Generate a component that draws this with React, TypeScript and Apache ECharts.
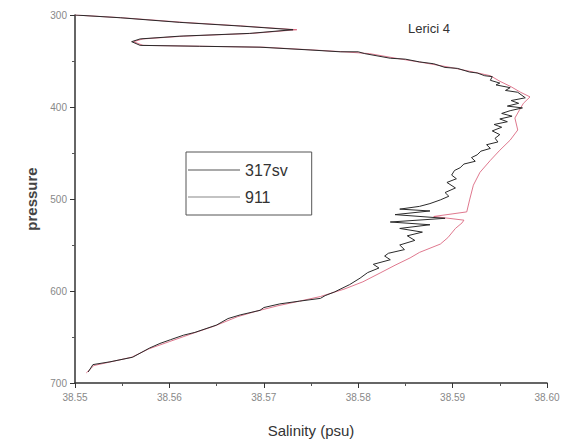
import React, { useEffect, useRef } from "react";
import * as echarts from "echarts";

// Salinity profile, cast "Lerici 4": [salinity (psu), pressure]
const series317sv: [number, number][] = [
  [38.5500, 300], [38.5548, 303], [38.5611, 308], [38.5675, 312], [38.5731, 316],
  [38.5685, 320], [38.5611, 323], [38.5569, 326], [38.5560, 329], [38.5569, 333],
  [38.5632, 334], [38.5696, 335], [38.5749, 338], [38.5781, 340], [38.5800, 340],
  [38.5807, 342], [38.5834, 347], [38.5850, 348], [38.5865, 351], [38.5880, 353],
  [38.5892, 357], [38.5905, 358], [38.5918, 362], [38.5926, 363], [38.5934, 366],
  [38.5942, 367], [38.5940, 371], [38.5950, 374], [38.5946, 376], [38.5961, 379],
  [38.5956, 382], [38.5969, 384], [38.5977, 390], [38.5962, 393], [38.5970, 396],
  [38.5958, 399], [38.5974, 401], [38.5961, 404], [38.5952, 407], [38.5963, 410],
  [38.5950, 413], [38.5958, 416], [38.5944, 419], [38.5952, 422], [38.5942, 426],
  [38.5950, 430], [38.5945, 434], [38.5948, 438], [38.5936, 441], [38.5940, 445],
  [38.5930, 448], [38.5926, 452], [38.5920, 455], [38.5924, 459], [38.5912, 462],
  [38.5908, 466], [38.5902, 469], [38.5899, 474], [38.5904, 478], [38.5894, 482],
  [38.5903, 488], [38.5892, 493], [38.5896, 497], [38.5887, 501], [38.5876, 505],
  [38.5865, 508], [38.5844, 511], [38.5876, 513], [38.5839, 517], [38.5892, 521],
  [38.5834, 525], [38.5876, 528], [38.5844, 532], [38.5868, 536], [38.5852, 540],
  [38.5860, 545], [38.5844, 550], [38.5849, 555], [38.5832, 559], [38.5828, 562],
  [38.5834, 566], [38.5816, 571], [38.5822, 575], [38.5810, 580], [38.5802, 586],
  [38.5791, 593], [38.5775, 601], [38.5765, 605], [38.5760, 608], [38.5738, 611],
  [38.5717, 614], [38.5700, 618], [38.5696, 621], [38.5675, 626], [38.5662, 630],
  [38.5650, 637], [38.5627, 645], [38.5615, 648], [38.5601, 653], [38.5590, 657],
  [38.5579, 662], [38.5561, 672], [38.5537, 677], [38.5519, 680], [38.5514, 688],
];

const series911: [number, number][] = [
  [38.5500, 300], [38.5550, 303], [38.5615, 308], [38.5678, 312], [38.5735, 316],
  [38.5688, 320], [38.5615, 323], [38.5572, 326], [38.5562, 329], [38.5572, 333],
  [38.5635, 334], [38.5700, 335], [38.5752, 338], [38.5785, 340], [38.5812, 342],
  [38.5840, 347], [38.5870, 352], [38.5898, 357], [38.5922, 362], [38.5940, 366],
  [38.5950, 372], [38.5962, 378], [38.5972, 384], [38.5982, 389], [38.5975, 396],
  [38.5971, 403], [38.5966, 412], [38.5969, 425], [38.5961, 436], [38.5950, 447],
  [38.5940, 458], [38.5929, 471], [38.5922, 485], [38.5918, 501], [38.5915, 514],
  [38.5880, 519], [38.5912, 523], [38.5910, 526], [38.5903, 532], [38.5895, 542],
  [38.5887, 549], [38.5865, 558], [38.5855, 564], [38.5839, 572], [38.5824, 580],
  [38.5805, 590], [38.5785, 598], [38.5760, 606], [38.5738, 611], [38.5715, 616],
  [38.5692, 622], [38.5672, 628], [38.5648, 638], [38.5625, 646], [38.5600, 655],
  [38.5578, 663], [38.5560, 672], [38.5538, 677], [38.5520, 681], [38.5512, 689],
];

const seriesNames = ["317sv", "911"];
const salinityMin = 38.55;
const salinityMax = 38.6;
const pressureMin = 300;
const pressureMax = 700;

export default function App() {
  const ref = useRef<HTMLDivElement>(null);

  useEffect(() => {
    if (!ref.current) return;
    const chart = echarts.init(ref.current, null, { renderer: "svg" });
    const font = "Liberation Sans, Arial, sans-serif";
    chart.setOption({
      animation: false,
      backgroundColor: "#ffffff",
      title: {
        text: "Lerici 4",
        left: 403,
        top: 17,
        textStyle: { fontFamily: font, fontSize: 13, fontWeight: "normal", color: "#333" },
      },
      legend: {
        data: seriesNames.map((name) => ({ name, icon: "rect" })),
        orient: "vertical",
        left: 186,
        top: 152,
        borderColor: "#555",
        borderWidth: 1,
        borderRadius: 0,
        padding: [10, 24, 10, 2],
        itemWidth: 52,
        itemHeight: 1,
        itemGap: 11,
        textStyle: { fontFamily: font, fontSize: 16, color: "#333", padding: [0, 0, 0, 0] },
      },
      grid: { left: 75, right: 18, top: 15, bottom: 63, containLabel: false },
      xAxis: {
        type: "value",
        min: salinityMin,
        max: salinityMax,
        interval: 0.01,
        name: "Salinity (psu)",
        nameLocation: "middle",
        nameGap: 40,
        nameTextStyle: { fontFamily: font, fontSize: 15, color: "#333" },
        axisLine: { show: true, lineStyle: { color: "#333", width: 1.5 } },
        axisTick: { show: true, length: 5, lineStyle: { color: "#333" } },
        minorTick: { show: true, splitNumber: 2, length: 3, lineStyle: { color: "#555" } },
        axisLabel: {
          fontFamily: font,
          fontSize: 10,
          color: "#888",
          margin: 9,
          formatter: (v: number) => v.toFixed(2),
        },
        splitLine: { show: false },
      },
      yAxis: {
        type: "value",
        inverse: true,
        min: pressureMin,
        max: pressureMax,
        interval: 100,
        name: "pressure",
        nameLocation: "middle",
        nameGap: 24,
        nameTextStyle: { fontFamily: font, fontSize: 15, fontWeight: "bold", color: "#444" },
        axisLine: { show: true, lineStyle: { color: "#333", width: 1.5 } },
        axisTick: { show: true, length: 5, lineStyle: { color: "#333" } },
        minorTick: { show: true, splitNumber: 2, length: 3, lineStyle: { color: "#555" } },
        axisLabel: { fontFamily: font, fontSize: 10, color: "#888", margin: 8 },
        splitLine: { show: false },
      },
      series: [
        {
          name: seriesNames[0],
          type: "line",
          data: series317sv,
          symbol: "none",
          lineStyle: { color: "#2a2a2a", width: 1 },
          itemStyle: { color: "#555" },
          z: 3,
        },
        {
          name: seriesNames[1],
          type: "line",
          data: series911,
          symbol: "none",
          lineStyle: { color: "#d9607a", width: 1, opacity: 0.85 },
          itemStyle: { color: "#888" },
          z: 2,
        },
      ],
    });
    return () => chart.dispose();
  }, []);

  return (
    <div
      ref={ref}
      style={{ position: "absolute", left: 0, top: 0, width: 565, height: 446 }}
    />
  );
}
